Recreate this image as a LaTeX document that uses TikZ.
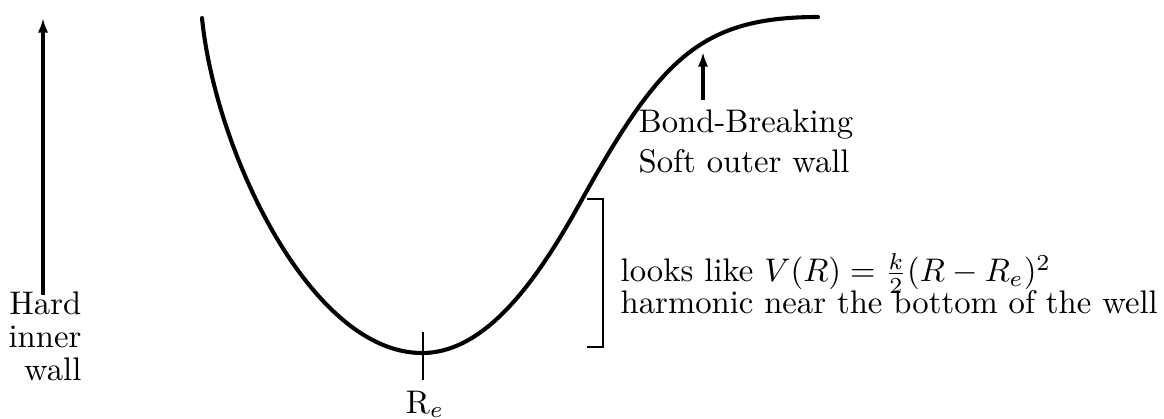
\documentclass[tikz,border=0pt]{standalone}
\usetikzlibrary{arrows.meta}
\begin{document}
\begin{tikzpicture}[x=0.3058pt,y=-0.3058pt,
  curve/.style={line width=1.25pt, line cap=round, line join=round},
  pointer/.style={line width=1pt,-{Latex[length=4.5pt,width=3.2pt]}},
  thinline/.style={line width=0.4pt},
  lbl/.style={inner sep=0pt}]
\useasboundingbox (0,0) rectangle (1164,418);
% potential curve
\coordinate (c0) at (202,18);
\coordinate (cmin) at (422,353);
\coordinate (cinf) at (580,203);
\coordinate (cend) at (818,17);
\draw[curve] (c0) .. controls (215,150) and (310,353) .. (cmin)
  .. controls (488,353) and (540,275) .. (cinf)
  .. controls (660,59) and (700,17) .. (cend);
% hard inner wall
\coordinate (hardbase) at (43,295);
\coordinate (hardtip) at (43,18);
\draw[pointer] (hardbase) -- (hardtip);
\node[lbl, anchor=base east, align=right, font=\fontsize{10}{10}\selectfont] (hard) at (82,380) {Hard\\inner\\wall};
% R_e
\coordinate (retop) at (423,332);
\coordinate (rebot) at (423,380);
\draw[thinline] (retop) -- (rebot);
\node[lbl, anchor=base] (re) at (425,413) {R$_e$};
% bond breaking
\coordinate (bbbase) at (703,100);
\coordinate (bbtip) at (703,52);
\draw[pointer] (bbbase) -- (bbtip);
\node[lbl, anchor=base west, align=left, font=\fontsize{10}{12.2}\selectfont] (bb) at (638,172) {Bond-Breaking\\Soft outer wall};
% bracket
\coordinate (b1) at (587,199);
\coordinate (b2) at (603,199);
\coordinate (b3) at (603,347);
\coordinate (b4) at (587,347);
\draw[thinline] (b1) -- (b2) -- (b3) -- (b4);
\node[lbl, anchor=base west, align=left, font={\fontsize{10}{9.5}\selectfont\lineskiplimit=-20pt\lineskip=0pt}] (harm) at (620,313) {looks like $V(R)=\frac{k}{2}(R-R_e)^2$\\harmonic near the bottom of the well};
\end{tikzpicture}
\end{document}
